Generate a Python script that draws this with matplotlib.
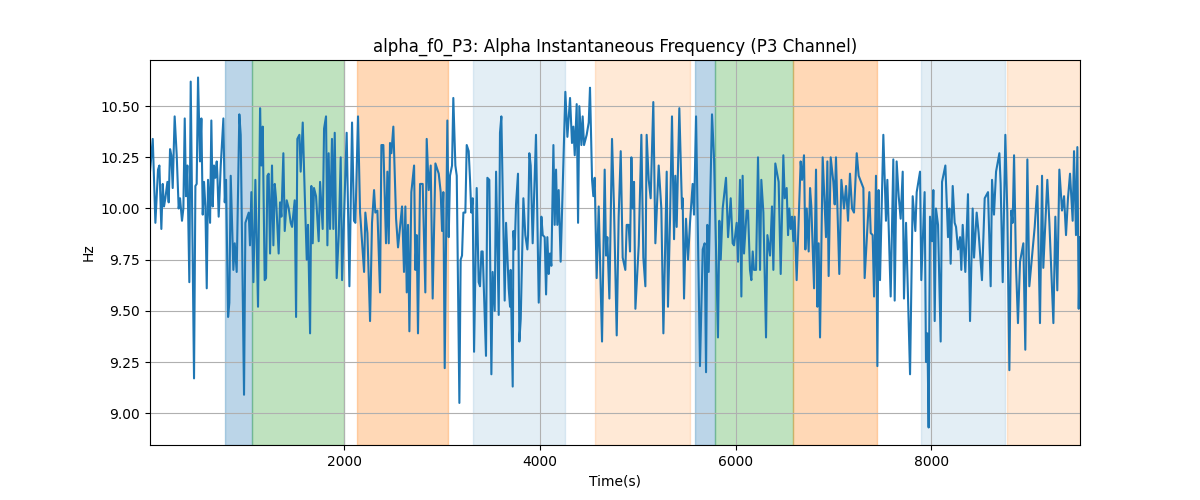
import matplotlib
matplotlib.use("Agg")
import matplotlib.pyplot as plt

time_s = [
    14, 42, 69, 96, 110, 130, 144, 157, 171, 192, 205, 219, 232, 246, 266, 287, 307, 321, 341, 355,
    369, 382, 396, 416, 430, 464, 478, 491, 505, 525, 539, 553, 566, 580, 594, 607, 628, 641, 655, 668,
    682, 696, 703, 716, 737, 764, 778, 791, 812, 825, 839, 866, 880, 900, 927, 941, 975, 989, 1023, 1036,
    1050, 1071, 1091, 1118, 1139, 1152, 1166, 1186, 1200, 1214, 1227, 1241, 1261, 1275, 1289, 1302, 1329, 1343, 1357, 1377,
    1391, 1411, 1432, 1452, 1466, 1493, 1507, 1520, 1541, 1554, 1575, 1595, 1616, 1629, 1650, 1663, 1677, 1690, 1711, 1738,
    1752, 1779, 1793, 1813, 1827, 1840, 1854, 1874, 1888, 1902, 1922, 1943, 1963, 1977, 2024, 2052, 2079, 2099, 2113, 2140,
    2161, 2202, 2215, 2236, 2263, 2283, 2304, 2317, 2338, 2365, 2379, 2399, 2426, 2440, 2454, 2467, 2481, 2501, 2529, 2549,
    2590, 2610, 2624, 2638, 2651, 2665, 2685, 2713, 2726, 2740, 2753, 2774, 2801, 2828, 2842, 2863, 2883, 2903, 2931, 2965,
    2985, 2999, 3012, 3026, 3053, 3067, 3080, 3101, 3114, 3135, 3149, 3176, 3189, 3203, 3217, 3237, 3251, 3271, 3285, 3298,
    3312, 3326, 3353, 3373, 3387, 3401, 3414, 3448, 3462, 3482, 3503, 3516, 3537, 3551, 3578, 3591, 3605, 3639, 3653, 3680,
    3694, 3700, 3721, 3728, 3741, 3755, 3775, 3789, 3803, 3830, 3850, 3871, 3878, 3891, 3905, 3925, 3959, 3987, 4014, 4028,
    4048, 4062, 4075, 4089, 4102, 4116, 4137, 4150, 4164, 4177, 4191, 4211, 4259, 4280, 4307, 4327, 4341, 4355, 4375, 4389,
    4402, 4423, 4436, 4450, 4477, 4498, 4511, 4532, 4545, 4559, 4579, 4600, 4634, 4661, 4675, 4688, 4709, 4736, 4756, 4784,
    4804, 4825, 4845, 4872, 4886, 4906, 4920, 4934, 4947, 4961, 4975, 5009, 5036, 5056, 5077, 5090, 5111, 5131, 5158, 5179,
    5213, 5240, 5261, 5281, 5295, 5308, 5329, 5349, 5370, 5383, 5397, 5424, 5451, 5458, 5472, 5492, 5513, 5533, 5560, 5574,
    5595, 5635, 5663, 5683, 5697, 5710, 5724, 5758, 5779, 5819, 5833, 5847, 5867, 5901, 5922, 5949, 5969, 5983, 6010, 6024,
    6044, 6058, 6071, 6085, 6112, 6126, 6146, 6160, 6174, 6187, 6208, 6228, 6249, 6262, 6283, 6310, 6324, 6351, 6371, 6385,
    6405, 6439, 6460, 6487, 6501, 6521, 6535, 6548, 6562, 6576, 6589, 6603, 6623, 6664, 6678, 6698, 6712, 6726, 6746, 6760,
    6773, 6801, 6821, 6835, 6848, 6862, 6889, 6923, 6937, 6950, 6971, 6998, 7012, 7025, 7059, 7080, 7107, 7128, 7148, 7168,
    7189, 7209, 7237, 7257, 7305, 7318, 7366, 7380, 7400, 7414, 7434, 7448, 7461, 7475, 7509, 7536, 7550, 7584, 7611, 7625,
    7645, 7666, 7686, 7707, 7720, 7741, 7782, 7809, 7836, 7850, 7884, 7897, 7931, 7945, 7959, 7972, 7986, 8006, 8020, 8034,
    8047, 8068, 8095, 8109, 8143, 8170, 8184, 8197, 8218, 8238, 8252, 8272, 8293, 8306, 8320, 8347, 8374, 8395, 8422, 8436,
    8463, 8483, 8517, 8545, 8579, 8606, 8620, 8640, 8661, 8695, 8708, 8729, 8756, 8776, 8797, 8817, 8831, 8845, 8865, 8885,
    8906, 8940, 8960, 8981, 9001, 9056, 9083, 9110, 9131, 9144, 9185, 9206, 9247, 9267, 9287, 9308, 9335, 9356, 9376, 9396,
    9417, 9444, 9458, 9478, 9492, 9506, 9519,
]

freq_hz = [
    10.18, 10.34, 9.93, 10.19, 10.21, 9.90, 10.12, 10.01, 10.05, 10.13, 10.03, 10.29, 10.26, 10.10, 10.45, 10.26, 10.00, 10.05, 9.94, 10.00,
    10.44, 10.06, 10.21, 9.64, 10.62, 9.17, 10.11, 10.12, 10.64, 10.23, 10.44, 9.97, 10.13, 10.01, 9.61, 10.14, 9.93, 10.43, 10.01, 10.21,
    10.15, 10.23, 10.16, 9.96, 10.21, 10.44, 10.03, 10.14, 9.47, 9.54, 10.16, 9.70, 9.83, 9.69, 10.46, 10.36, 9.09, 9.93, 9.98, 9.82,
    10.08, 9.64, 10.14, 9.52, 10.49, 10.21, 10.40, 9.65, 9.66, 10.16, 10.17, 9.78, 10.21, 9.82, 10.12, 10.05, 9.78, 10.03, 9.96, 10.27,
    9.89, 10.04, 10.00, 9.93, 9.91, 10.04, 9.47, 10.34, 10.36, 10.18, 10.42, 10.08, 9.75, 9.92, 9.39, 10.11, 9.83, 10.10, 10.06, 9.84,
    10.13, 9.90, 10.39, 10.45, 9.82, 10.27, 9.90, 10.34, 9.90, 10.37, 9.66, 9.87, 10.25, 9.65, 10.37, 9.62, 10.42, 9.94, 9.93, 10.45,
    9.98, 9.69, 9.98, 9.88, 9.45, 9.93, 10.09, 9.98, 9.99, 9.59, 10.31, 10.31, 9.83, 10.18, 9.83, 10.32, 10.27, 10.40, 9.95, 9.81,
    10.01, 9.69, 10.01, 9.59, 9.92, 9.40, 10.08, 10.21, 9.70, 9.87, 9.39, 10.12, 10.12, 9.59, 10.34, 10.09, 10.21, 9.56, 10.22, 10.17,
    10.08, 9.89, 10.08, 9.22, 10.43, 9.86, 10.16, 10.21, 10.54, 10.21, 10.16, 9.05, 9.75, 9.77, 9.98, 9.98, 10.31, 10.28, 10.14, 9.98,
    10.05, 9.30, 10.10, 9.64, 9.62, 9.79, 9.79, 9.28, 10.15, 10.14, 9.19, 9.69, 9.50, 10.18, 9.48, 10.37, 10.45, 9.55, 9.93, 9.61,
    9.52, 9.70, 9.13, 9.89, 9.80, 10.02, 10.17, 9.35, 9.46, 10.05, 9.87, 9.80, 9.87, 10.27, 10.21, 9.83, 10.36, 9.54, 9.96, 9.87,
    9.86, 9.58, 9.86, 9.68, 9.78, 9.72, 10.31, 9.92, 10.19, 9.92, 10.09, 9.74, 10.57, 10.35, 10.54, 10.32, 10.40, 10.26, 10.51, 9.93,
    10.50, 10.31, 10.45, 10.31, 10.36, 10.42, 10.59, 10.14, 10.06, 10.15, 9.66, 10.01, 9.35, 10.19, 9.77, 9.86, 9.56, 10.34, 10.01, 9.38,
    9.96, 10.28, 9.76, 9.70, 9.92, 9.92, 9.79, 10.25, 10.00, 10.13, 9.51, 9.82, 10.36, 9.76, 9.62, 10.36, 10.14, 10.05, 10.52, 9.83,
    10.21, 10.00, 9.39, 9.85, 10.18, 9.52, 9.95, 10.45, 9.85, 10.16, 9.91, 10.49, 10.00, 10.05, 9.56, 9.95, 9.75, 9.93, 10.12, 9.97,
    10.45, 9.23, 9.80, 9.83, 9.20, 9.92, 9.69, 10.46, 10.24, 9.37, 9.94, 9.75, 10.00, 10.15, 9.86, 10.05, 9.83, 9.82, 9.93, 9.74,
    10.14, 9.57, 10.16, 9.78, 9.99, 9.99, 9.70, 9.65, 9.79, 9.70, 9.70, 10.25, 9.70, 10.14, 9.98, 9.37, 9.87, 9.77, 10.01, 9.70,
    10.22, 10.13, 9.68, 10.26, 10.05, 10.10, 9.87, 10.00, 9.90, 9.96, 9.84, 9.96, 9.65, 10.23, 10.14, 10.26, 9.80, 10.00, 9.79, 10.10,
    10.01, 9.61, 10.19, 9.52, 9.83, 9.37, 10.25, 9.86, 10.23, 9.67, 10.25, 10.13, 10.02, 10.25, 9.68, 10.14, 10.00, 10.11, 9.94, 10.17,
    10.00, 9.98, 10.27, 10.16, 10.10, 9.66, 10.08, 9.88, 9.87, 9.57, 10.16, 9.23, 10.09, 9.65, 10.36, 9.94, 10.14, 9.57, 10.24, 9.55,
    10.23, 10.06, 9.95, 10.18, 9.56, 9.93, 9.19, 10.06, 9.89, 10.08, 10.18, 9.65, 10.08, 9.25, 9.39, 8.93, 9.96, 9.84, 10.09, 9.45,
    10.00, 9.92, 9.35, 10.13, 10.21, 9.86, 10.00, 9.73, 10.11, 9.93, 9.91, 9.80, 9.86, 9.70, 9.92, 9.69, 10.07, 9.45, 10.00, 9.76,
    9.98, 9.88, 9.65, 10.05, 10.08, 9.62, 10.14, 9.97, 10.18, 10.27, 10.12, 9.64, 10.36, 9.98, 9.21, 9.99, 9.93, 10.26, 9.72, 9.44,
    9.74, 9.83, 9.31, 10.24, 9.62, 9.91, 10.11, 9.44, 10.16, 9.71, 10.14, 9.93, 9.44, 9.96, 9.60, 10.19, 9.99, 10.06, 9.87, 10.05,
    10.17, 9.94, 10.28, 9.87, 10.30, 9.51, 9.86,
]

# shaded intervals: (start, end, color, alpha)
span_starts = [784, 1057, 2127, 3318, 4562, 5584, 5792, 6589, 7894, 8770]
span_ends = [1057, 2000, 3057, 4252, 5533, 5792, 6589, 7441, 8756, 9519]
span_colors = ["tab:blue", "tab:green", "tab:orange", "tab:blue", "tab:orange",
               "tab:blue", "tab:green", "tab:orange", "tab:blue", "tab:orange"]
span_alphas = [0.3, 0.3, 0.3, 0.12, 0.17, 0.3, 0.3, 0.3, 0.12, 0.17]

fig, ax = plt.subplots(figsize=(12, 5), dpi=100)
for s, e, c, a in zip(span_starts, span_ends, span_colors, span_alphas):
    ax.axvspan(s, e, color=c, alpha=a)
ax.plot(time_s, freq_hz, color="tab:blue", linewidth=1.5)
ax.set_xlim(time_s[0], time_s[-1])
ax.grid(True)
ax.set_title("alpha_f0_P3: Alpha Instantaneous Frequency (P3 Channel)")
ax.set_xlabel("Time(s)")
ax.set_ylabel("Hz")
fig.savefig("out.png", dpi=100)
